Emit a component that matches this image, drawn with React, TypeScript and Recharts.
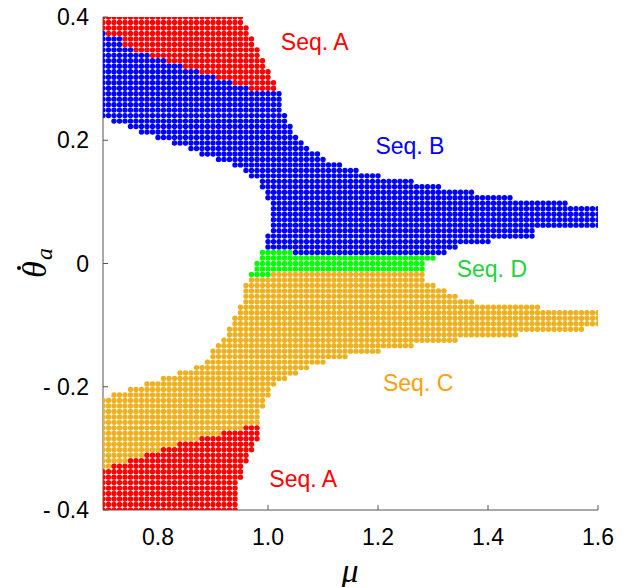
import { ScatterChart, Scatter, XAxis, YAxis, ReferenceDot } from "recharts";

// grid used for the sweep: mu 0.70..1.60 (91 cols), theta_dot 0.4..-0.4 (91 rows)
const muStart = 0.7;
const muStep = 0.01;
const thetaTop = 0.4;
const thetaStep = 0.8 / 90;

// runs per grid row: [row, firstCol, lastCol]
const seqATop = [
    [0, 0, 25], [1, 0, 25], [2, 0, 26], [3, 1, 26], [4, 4, 27], [5, 4, 27], [6, 6, 28],
    [7, 9, 28], [8, 12, 29], [9, 15, 29], [10, 18, 30], [11, 21, 30], [12, 24, 31], [13, 27, 31],
];
const seqABottom = [
    [75, 26, 28], [76, 22, 28], [77, 18, 28], [78, 14, 27], [79, 11, 27], [80, 8, 26],
    [81, 5, 26], [82, 2, 25], [83, 0, 25], [84, 0, 25], [85, 0, 24], [86, 0, 24],
    [87, 0, 24], [88, 0, 24], [89, 0, 24], [90, 0, 24],
];
const seqB = [
    [3, 0, 0], [4, 0, 3], [5, 0, 3], [6, 0, 5], [7, 0, 8], [8, 0, 11], [9, 0, 14], [10, 0, 17],
    [11, 0, 20], [12, 0, 23], [13, 0, 26], [14, 0, 32], [15, 0, 32], [16, 0, 32], [17, 0, 32],
    [18, 0, 33], [19, 2, 33], [20, 5, 34], [21, 7, 34], [22, 10, 35], [23, 13, 36], [24, 16, 37],
    [25, 18, 39], [26, 21, 40], [27, 24, 43], [28, 26, 46], [29, 27, 50], [30, 29, 56],
    [31, 29, 61], [32, 30, 67], [33, 30, 74], [34, 31, 84], [35, 31, 90], [36, 31, 90],
    [37, 31, 90], [38, 31, 90], [39, 31, 78], [40, 30, 78], [41, 30, 70], [42, 30, 64], [43, 35, 62],
];
const seqD = [
    [43, 29, 34], [44, 29, 60], [45, 28, 58], [46, 28, 58], [47, 27, 30],
];
const seqC = [
    [47, 31, 58], [48, 27, 58], [49, 26, 60], [50, 26, 62], [51, 26, 64], [52, 26, 67],
    [53, 25, 79], [54, 25, 90], [55, 24, 90], [56, 24, 90], [57, 23, 87], [58, 23, 75],
    [59, 22, 64], [60, 21, 56], [61, 20, 50], [62, 20, 44], [63, 19, 40], [64, 17, 37],
    [65, 14, 35], [66, 11, 33], [67, 8, 31], [68, 5, 30], [69, 2, 30], [70, 0, 29],
    [71, 0, 29], [72, 0, 28], [73, 0, 28], [74, 0, 28], [75, 0, 25], [76, 0, 21],
    [77, 0, 17], [78, 0, 13], [79, 0, 10], [80, 0, 7], [81, 0, 4], [82, 0, 1],
];

const xTicks = [0.8, 1.0, 1.2, 1.4, 1.6];
const yTicks = [-0.4, -0.2, 0, 0.2, 0.4];

const labels = [
    { text: "Seq. A", mu: 1.085, theta: 0.36, color: "#ff0000" },
    { text: "Seq. B", mu: 1.258, theta: 0.191, color: "#0000ff" },
    { text: "Seq. D", mu: 1.407, theta: -0.009, color: "#1fd33c" },
    { text: "Seq. C", mu: 1.273, theta: -0.194, color: "#ff9f0a" },
    { text: "Seq. A", mu: 1.064, theta: -0.35, color: "#ff0000" },
];

function toPoints(runs: number[][]) {
    const pts: { mu: number; theta: number }[] = [];
    runs.forEach(([row, c0, c1]) => {
        for (let c = c0; c <= c1; c++) {
            pts.push({ mu: muStart + c * muStep, theta: thetaTop - row * thetaStep });
        }
    });
    return pts;
}

const font = "'Liberation Sans', Arial, sans-serif";
const serif = "'Liberation Serif', 'DejaVu Serif', serif";
const axisColor = "#555";

const dot = (color: string) => (p: any) => (
    <circle cx={p.cx} cy={p.cy} r={2.7} fill={color} />
);

const XTick = ({ x, y, payload }: any) => (
    <g>
        <line x1={x} x2={x} y1={y} y2={y - 5} stroke={axisColor} />
        <text x={x} y={y + 27} textAnchor="middle" dominantBaseline="central"
            fontSize={23} fontFamily={font} fill="#000">
            {payload.value.toFixed(1)}
        </text>
    </g>
);

const YTick = ({ x, y, payload }: any) => {
    const v = payload.value;
    const txt = v === 0 ? "0" : v < 0 ? "- " + Math.abs(v).toFixed(1) : v.toFixed(1);
    return (
        <g>
            <line x1={x} x2={x + 5} y1={y} y2={y} stroke={axisColor} />
            <text x={x - 14} y={y} textAnchor="end" dominantBaseline="central"
                fontSize={23} fontFamily={font} fill="#000">
                {txt}
            </text>
        </g>
    );
};

export default function App() {
    return (
        <div style={{ width: 629, height: 587, background: "#fff" }}>
            <style>{`body{margin:0}`}</style>
            <ScatterChart width={629} height={587} margin={{ top: 17, right: 31, bottom: 0, left: 0 }}>
                <XAxis type="number" dataKey="mu" domain={[0.7, 1.6]} ticks={xTicks}
                    allowDataOverflow height={77} tickSize={0} tickMargin={0}
                    stroke={axisColor} tick={<XTick />}
                    label={{
                        content: () => (
                            <text x={350} y={570} textAnchor="middle" dominantBaseline="central"
                                fontSize={34} fontStyle="italic" fontFamily={serif}>
                                μ
                            </text>
                        ),
                    }} />
                <YAxis type="number" dataKey="theta" domain={[-0.4, 0.4]} ticks={yTicks}
                    allowDataOverflow width={103} tickSize={0} tickMargin={0}
                    stroke={axisColor} tick={<YTick />}
                    label={{
                        content: () => (
                            <g transform="translate(46,262) rotate(-90)">
                                <text x={-16} y={0} fontSize={34} fontStyle="italic" fontFamily={serif}>
                                    θ
                                </text>
                                <text x={2} y={6} fontSize={24} fontStyle="italic" fontFamily={serif}>
                                    a
                                </text>
                                <circle cx={-6} cy={-27} r={2} fill="#000" />
                            </g>
                        ),
                    }} />
                <Scatter data={toPoints(seqB)} isAnimationActive={false} shape={dot("#0000ff")} />
                <Scatter data={toPoints(seqD)} isAnimationActive={false} shape={dot("#00ff00")} />
                <Scatter data={toPoints(seqC)} isAnimationActive={false} shape={dot("#edb120")} />
                <Scatter data={toPoints(seqATop)} isAnimationActive={false} shape={dot("#ff0000")} />
                <Scatter data={toPoints(seqABottom)} isAnimationActive={false} shape={dot("#ff0000")} />
                {labels.map((l, i) => (
                    <ReferenceDot key={i} x={l.mu} y={l.theta} ifOverflow="visible"
                        shape={(p: any) => (
                            <text x={p.cx} y={p.cy} textAnchor="middle" dominantBaseline="central"
                                fontSize={23} fontFamily={font} fill={l.color}>
                                {l.text}
                            </text>
                        )} />
                ))}
            </ScatterChart>
        </div>
    );
}
